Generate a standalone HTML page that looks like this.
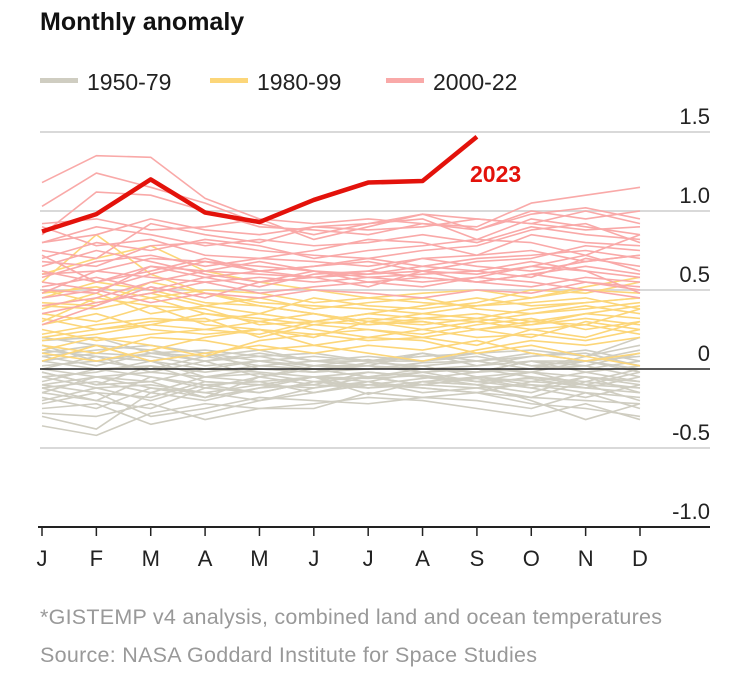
<!DOCTYPE html>
<html><head><meta charset="utf-8"><style>
body{margin:0;background:#fff;width:750px;height:684px;overflow:hidden;font-family:"Liberation Sans Narrow","Liberation Sans",sans-serif;}
svg text{font-family:"Liberation Sans Narrow","Liberation Sans",sans-serif;}
</style></head><body>
<svg id="c" width="750" height="684">
<text x="40" y="30" font-size="25" font-weight="bold" fill="#111">Monthly anomaly</text>
<g>
<rect x="40" y="78" width="38" height="5" fill="#cfcdc1"/>
<text x="87" y="90" font-size="23" fill="#222">1950-79</text>
<rect x="210" y="78" width="38" height="5" fill="#fcd679"/>
<text x="257" y="90" font-size="23" fill="#222">1980-99</text>
<rect x="386" y="78" width="38" height="5" fill="#f9a9a8"/>
<text x="433" y="90" font-size="23" fill="#222">2000-22</text>
</g>
<g id="grid"></g><g id="lines"></g><g id="axis"></g>
<text x="40" y="624" font-size="21.5" fill="#999" textLength="622">*GISTEMP v4 analysis, combined land and ocean temperatures</text>
<text x="40" y="662" font-size="21.5" fill="#999" textLength="497">Source: NASA Goddard Institute for Space Studies</text>
</svg>
<script>
const months=["J","F","M","A","M","J","J","A","S","O","N","D"];
const yTicks=[1.5,1.0,0.5,0,-0.5,-1.0];
const yTickLabels=["1.5","1.0","0.5","0","-0.5","-1.0"];
const series1950=[
[-0.30,-0.38,-0.15,-0.20,-0.12,-0.05,-0.16,-0.08,-0.10,-0.20,-0.32,-0.22],
[-0.12,-0.20,-0.05,-0.12,-0.05,0.00,-0.05,-0.02,-0.08,-0.12,-0.05,-0.15],
[0.05,0.10,0.08,0.02,0.05,0.02,0.06,0.00,-0.02,0.05,0.02,0.10],
[-0.22,-0.15,-0.30,-0.25,-0.18,-0.20,-0.22,-0.18,-0.15,-0.22,-0.25,-0.30],
[-0.10,-0.15,-0.18,-0.08,-0.10,-0.12,-0.05,-0.10,-0.05,-0.02,-0.10,-0.20],
[-0.36,-0.42,-0.28,-0.22,-0.25,-0.22,-0.18,-0.20,-0.25,-0.30,-0.22,-0.32],
[0.12,0.08,0.05,0.10,0.00,-0.02,0.04,0.02,0.05,0.10,0.05,0.08],
[-0.05,-0.12,-0.20,-0.10,-0.08,-0.05,-0.06,-0.04,-0.08,-0.06,-0.12,-0.05],
[-0.15,-0.05,-0.12,-0.18,-0.12,-0.10,-0.12,-0.10,-0.06,-0.12,-0.18,-0.10],
[0.00,-0.05,-0.02,-0.05,-0.03,-0.08,-0.10,-0.06,-0.02,0.00,0.02,-0.05],
[-0.25,-0.22,-0.35,-0.28,-0.20,-0.15,-0.10,-0.12,-0.15,-0.18,-0.20,-0.22],
[0.20,0.15,0.12,0.05,0.08,0.02,0.00,0.04,0.05,0.08,0.12,0.05],
[-0.08,0.00,-0.05,-0.10,-0.15,-0.08,-0.12,-0.08,-0.10,-0.15,-0.05,-0.10],
[-0.18,-0.25,-0.12,-0.15,-0.20,-0.12,-0.08,-0.15,-0.12,-0.10,-0.15,-0.18],
[0.08,0.02,0.10,0.05,0.10,0.05,0.02,-0.02,0.00,-0.02,0.05,-0.02],
[-0.02,-0.10,-0.08,0.00,-0.02,-0.05,-0.02,-0.05,-0.10,-0.05,-0.08,0.00],
[-0.28,-0.30,-0.22,-0.32,-0.25,-0.25,-0.15,-0.18,-0.20,-0.25,-0.15,-0.25],
[0.02,0.05,0.00,0.08,0.02,0.05,0.05,0.05,0.08,0.02,0.00,0.05],
[-0.12,-0.08,-0.15,-0.05,-0.08,-0.15,-0.08,-0.12,-0.15,-0.08,-0.10,-0.12],
[0.10,0.15,0.05,0.00,0.05,0.08,0.05,0.10,0.02,0.05,-0.02,0.02],
[-0.20,-0.12,-0.10,-0.15,-0.10,-0.05,-0.12,-0.08,-0.05,-0.10,-0.12,-0.15],
[-0.05,-0.02,0.05,-0.05,0.00,-0.02,0.00,0.02,-0.05,-0.08,-0.02,-0.08],
[0.15,0.05,0.10,0.12,0.08,0.10,0.05,0.08,0.10,0.02,0.05,0.12],
[-0.15,-0.20,-0.25,-0.12,-0.15,-0.08,-0.05,-0.10,-0.12,-0.18,-0.08,-0.12],
[0.05,0.00,0.02,-0.02,0.02,0.00,-0.05,0.00,0.02,0.08,0.10,0.02],
[-0.10,-0.05,-0.08,-0.18,-0.05,-0.10,-0.02,-0.05,-0.08,-0.02,-0.05,-0.08],
[0.18,0.20,0.10,0.08,0.12,0.05,0.08,0.05,0.10,0.12,0.08,0.15],
[0.00,0.08,-0.02,0.05,-0.05,0.02,0.02,0.00,-0.02,0.05,0.05,0.00],
[0.08,0.12,0.15,0.10,0.05,0.00,0.02,0.10,0.05,0.00,0.08,0.20],
[-0.02,-0.10,0.02,-0.08,-0.10,-0.05,-0.08,-0.02,0.00,-0.05,-0.10,-0.02]];
const series1980=[
[0.30,0.45,0.40,0.28,0.25,0.22,0.18,0.20,0.25,0.20,0.30,0.25],
[0.15,0.10,0.20,0.18,0.12,0.15,0.10,0.05,0.12,0.18,0.15,0.20],
[0.55,0.85,0.60,0.48,0.40,0.35,0.30,0.25,0.30,0.25,0.20,0.30],
[0.10,0.05,0.12,0.20,0.25,0.15,0.20,0.18,0.10,0.15,0.08,0.02],
[0.40,0.38,0.45,0.35,0.30,0.35,0.28,0.30,0.25,0.30,0.35,0.40],
[0.20,0.25,0.30,0.32,0.20,0.28,0.25,0.22,0.28,0.32,0.25,0.30],
[0.45,0.55,0.50,0.42,0.40,0.35,0.30,0.35,0.40,0.42,0.45,0.38],
[0.05,0.15,0.05,0.10,0.15,0.10,0.15,0.12,0.18,0.10,0.05,0.10],
[0.35,0.30,0.40,0.38,0.28,0.30,0.35,0.40,0.45,0.40,0.42,0.45],
[0.25,0.18,0.22,0.25,0.30,0.25,0.20,0.25,0.20,0.22,0.18,0.25],
[0.50,0.42,0.48,0.40,0.35,0.45,0.40,0.38,0.42,0.50,0.48,0.55],
[0.28,0.35,0.25,0.22,0.25,0.20,0.30,0.28,0.32,0.28,0.35,0.32],
[0.60,0.70,0.78,0.62,0.55,0.50,0.45,0.42,0.40,0.45,0.50,0.48],
[0.12,0.20,0.15,0.08,0.18,0.22,0.25,0.20,0.15,0.25,0.28,0.22],
[0.38,0.48,0.35,0.40,0.45,0.38,0.42,0.45,0.38,0.35,0.40,0.35],
[0.22,0.28,0.32,0.30,0.35,0.30,0.28,0.32,0.35,0.30,0.28,0.38],
[0.42,0.40,0.55,0.48,0.42,0.40,0.38,0.35,0.32,0.38,0.42,0.45],
[0.32,0.25,0.28,0.35,0.32,0.28,0.32,0.30,0.25,0.28,0.32,0.28],
[0.48,0.52,0.45,0.50,0.48,0.42,0.45,0.48,0.50,0.45,0.52,0.58],
[0.18,0.22,0.28,0.25,0.22,0.30,0.35,0.32,0.30,0.35,0.38,0.42]];
const series2000=[
[1.18,1.35,1.34,1.08,0.95,0.82,0.90,0.98,0.88,1.00,0.95,1.00],
[1.03,1.24,1.15,1.05,0.92,0.85,0.92,0.95,0.82,0.95,0.90,0.85],
[0.85,1.12,1.10,1.00,0.90,0.88,0.85,0.92,0.90,1.05,1.10,1.15],
[0.75,0.70,0.92,0.85,0.80,0.90,0.92,0.98,0.95,0.92,1.00,0.92],
[0.80,0.90,0.85,0.78,0.82,0.78,0.80,0.85,0.80,0.90,0.85,0.82],
[0.68,0.65,0.78,0.80,0.75,0.72,0.70,0.75,0.78,0.88,0.92,0.80],
[0.90,0.78,0.82,0.72,0.70,0.75,0.82,0.80,0.72,0.85,0.80,0.78],
[0.60,0.62,0.70,0.68,0.65,0.62,0.60,0.65,0.70,0.72,0.75,0.70],
[0.72,0.55,0.65,0.62,0.60,0.58,0.62,0.70,0.65,0.62,0.68,0.72],
[0.55,0.50,0.60,0.68,0.62,0.65,0.68,0.62,0.60,0.65,0.62,0.58],
[0.48,0.62,0.58,0.55,0.58,0.55,0.58,0.60,0.62,0.58,0.70,0.65],
[0.65,0.75,0.68,0.60,0.55,0.62,0.55,0.58,0.55,0.60,0.55,0.50],
[0.40,0.45,0.55,0.62,0.68,0.62,0.58,0.55,0.58,0.65,0.72,0.62],
[0.58,0.68,0.72,0.65,0.70,0.68,0.65,0.70,0.72,0.75,0.68,0.72],
[0.52,0.58,0.50,0.58,0.52,0.60,0.62,0.58,0.55,0.52,0.58,0.55],
[0.35,0.42,0.48,0.55,0.48,0.52,0.55,0.52,0.58,0.55,0.50,0.45],
[0.62,0.55,0.62,0.70,0.62,0.58,0.52,0.62,0.68,0.70,0.78,0.75],
[0.70,0.80,0.75,0.82,0.78,0.70,0.75,0.78,0.82,0.80,0.72,0.85],
[0.45,0.50,0.42,0.48,0.45,0.50,0.48,0.45,0.50,0.48,0.55,0.52],
[0.28,0.40,0.52,0.45,0.55,0.58,0.60,0.62,0.55,0.60,0.65,0.60],
[0.80,0.85,0.95,0.88,0.85,0.90,0.88,0.90,0.95,0.92,0.88,0.90],
[0.92,0.95,0.88,0.90,0.95,0.92,0.95,0.92,0.88,0.98,1.02,0.95],
[0.50,0.48,0.65,0.58,0.62,0.65,0.70,0.65,0.62,0.68,0.62,0.48]];
const series2023=[0.87,0.98,1.20,0.99,0.93,1.07,1.18,1.19,1.47];

const svg=document.getElementById('c');
const NS='http://www.w3.org/2000/svg';
const x=i=>42+i*(640-42)/11;
const y=v=>369-v*158;
function mk(t,a,p){const e=document.createElementNS(NS,t);for(const k in a)e.setAttribute(k,a[k]);p.appendChild(e);return e;}
const grid=document.getElementById('grid'),lines=document.getElementById('lines'),axis=document.getElementById('axis');
yTicks.forEach((v,i)=>{
  if(v!==-1.0&&v!==0){const g=mk('line',{x1:40,x2:710,y1:y(v),y2:y(v),stroke:'#d9d9d9','stroke-width':2},grid);
  
  }
  const t=mk('text',{x:710,y:y(v)-8,'text-anchor':'end','font-size':22,fill:'#222'},axis);
  t.textContent=yTickLabels[i];
  
  
});
function line(d,col,w,p){
  const pl=mk('polyline',{points:d.map((v,i)=>x(i)+','+y(v)).join(' '),fill:'none',stroke:col,'stroke-width':w,'stroke-linejoin':'round'},p);
  return pl;
}
series1950.forEach(d=>{const l=line(d,'#cfcdc1',1.6,lines);
  
  });
series1980.forEach(d=>{const l=line(d,'#fcd679',1.6,lines);
  
  });
series2000.forEach(d=>{const l=line(d,'#f9a9a8',1.6,lines);
  
  });
const z=mk('line',{x1:40,x2:710,y1:y(0),y2:y(0),stroke:'#222','stroke-width':1.5},axis);


const l23=line(series2023,'#e3120b',4.5,axis);


const lab=mk('text',{x:470,y:182,'font-size':23,'font-weight':'bold',fill:'#e3120b'},axis);
lab.textContent='2023';


const xa=mk('line',{x1:38,x2:710,y1:527,y2:527,stroke:'#222','stroke-width':2},axis);


months.forEach((m,i)=>{
  const tk=mk('line',{x1:x(i),x2:x(i),y1:527,y2:536,stroke:'#222','stroke-width':1.5},axis);
  
  
  const t=mk('text',{x:x(i),y:566,'text-anchor':'middle','font-size':22,fill:'#222'},axis);
  t.textContent=m;
  
  
});
</script>
</body></html>
